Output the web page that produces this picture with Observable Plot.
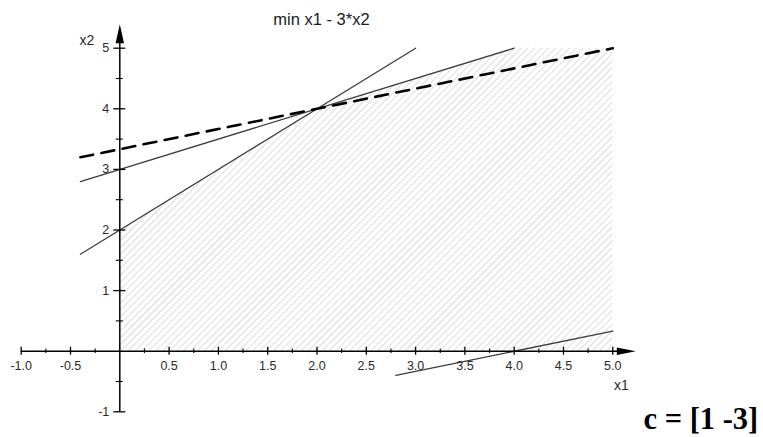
<!DOCTYPE html>
<html>
<head>
<meta charset="utf-8">
<script src="https://cdn.jsdelivr.net/npm/d3@7"></script>
<script src="https://cdn.jsdelivr.net/npm/@observablehq/plot@0.6"></script>
<style>
  html, body { margin: 0; padding: 0; background: #fff; }
  #chart { position: relative; width: 763px; height: 437px; }
</style>
</head>
<body>
<svg width="0" height="0" style="position:absolute">
  <defs>
    <pattern id="hatch" width="4.9" height="4.9" patternUnits="userSpaceOnUse" patternTransform="rotate(45)">
      <line x1="0" y1="-1" x2="0" y2="6" stroke="#b8b8b8" stroke-width="1"></line>
    </pattern>
  </defs>
</svg>
<div id="chart"></div>
<script>
// ---- data ----
const title = "min x1 - 3*x2";
const caption = "c = [1 -3]";
const xAxisLabel = "x1";
const yAxisLabel = "x2";

const xMajor = [-1, -0.5, 0.5, 1, 1.5, 2, 2.5, 3, 3.5, 4, 4.5, 5];
const xMajorLabels = ["-1.0", "-0.5", "0.5", "1.0", "1.5", "2.0", "2.5", "3.0", "3.5", "4.0", "4.5", "5.0"];
const xMinor = [-0.75, -0.25, 0.25, 0.75, 1.25, 1.75, 2.25, 2.75, 3.25, 3.75, 4.25, 4.75];
const yMajor = [-1, 1, 2, 3, 4, 5];
const yMajorLabels = ["-1", "1", "2", "3", "4", "5"];
const yMinor = [-0.5, 0.5, 1.5, 2.5, 3.5, 4.5];

// constraint lines (segment end points)
const lineAx = [-0.4, 3];   const lineAy = [1.6, 5];    // x2 = x1 + 2
const lineBx = [-0.4, 4];   const lineBy = [2.8, 5];    // x2 = 0.5 x1 + 3
const lineCx = [2.8, 5];    const lineCy = [-0.4, 0.333]; // x2 = (x1 - 4)/3
// objective level line
const objX = [-0.4, 5];     const objY = [3.2, 5];
// feasible region (hatched)
const feasX = [0, 2, 4, 5]; const feasTop = [2, 4, 5, 5];

const origin = 0;
const xDomain = [-1, 5];
const yDomain = [-1, 5];

// ---- helpers ----
const seg = (xs, ys) => xs.map((x, i) => ({x, y: ys[i]}));
const arrowUp = { draw(ctx) { ctx.moveTo(0, -24); ctx.lineTo(4.2, -5); ctx.lineTo(-4.2, -5); ctx.closePath(); } };
const arrowRight = { draw(ctx) { ctx.moveTo(23, 0); ctx.lineTo(4, 3.8); ctx.lineTo(4, -3.8); ctx.closePath(); } };
const font = "'Liberation Sans', Arial, sans-serif";

const marginLeft = 20.7, marginRight = 150.7, marginTop = 47.7, marginBottom = 25.7;

const chart = Plot.plot({
  width: 763,
  height: 437,
  marginLeft, marginRight, marginTop, marginBottom,
  x: { domain: xDomain, axis: null },
  y: { domain: yDomain, axis: null },
  style: { background: "#fff", fontFamily: font, overflow: "visible" },
  marks: [
    // hatched feasible region
    Plot.areaY(feasX.map((x, i) => ({x, y1: origin, y2: feasTop[i]})), {
      x: "x", y1: "y1", y2: "y2", fill: "url(#hatch)", curve: "linear"
    }),
    // constraint lines
    Plot.line(seg(lineAx, lineAy), {x: "x", y: "y", stroke: "#3c3c3c", strokeWidth: 1.3}),
    Plot.line(seg(lineBx, lineBy), {x: "x", y: "y", stroke: "#3c3c3c", strokeWidth: 1.3}),
    Plot.line(seg(lineCx, lineCy), {x: "x", y: "y", stroke: "#3c3c3c", strokeWidth: 1.3}),
    // objective line
    Plot.line(seg(objX, objY), {x: "x", y: "y", stroke: "#000", strokeWidth: 2.6, strokeDasharray: "13,8.5"}),
    // axes lines
    Plot.ruleY([origin], {x1: () => xDomain[0], x2: () => xDomain[1], y: d => d, stroke: "#000", strokeWidth: 1.5, insetRight: -6}),
    Plot.ruleX([origin], {y1: () => yDomain[1], y2: () => yDomain[0], x: d => d, stroke: "#000", strokeWidth: 1.5, insetTop: -6}),
    // arrow heads
    Plot.dot([xDomain[1]], {x: d => d, y: () => origin, symbol: arrowRight, fill: "#000", stroke: null}),
    Plot.dot([yDomain[1]], {x: () => origin, y: d => d, symbol: arrowUp, fill: "#000", stroke: null}),
    // x ticks
    Plot.ruleX(xMajor, {x: d => d, y1: () => origin, y2: () => origin, insetTop: -4, insetBottom: -4, stroke: "#000", strokeWidth: 1.3}),
    Plot.ruleX(xMinor, {x: d => d, y1: () => origin, y2: () => origin, insetTop: -2.3, insetBottom: -2.3, stroke: "#000", strokeWidth: 1.1}),
    // y ticks
    Plot.ruleY(yMajor, {y: d => d, x1: () => origin, x2: () => origin, insetLeft: -6, insetRight: -6, stroke: "#000", strokeWidth: 1.3}),
    Plot.ruleY(yMinor, {y: d => d, x1: () => origin, x2: () => origin, insetLeft: -3.5, insetRight: -3.5, stroke: "#000", strokeWidth: 1.1}),
    // tick labels
    Plot.text(xMajor, {x: d => d, y: () => origin, text: (d, i) => xMajorLabels[i], dy: 14.5, fontSize: 12.5, fill: "#2a2a2a", fontFamily: font}),
    Plot.text(yMajor, {x: () => origin, y: d => d, text: (d, i) => yMajorLabels[i], dx: -10.5, textAnchor: "end", fontSize: 12.5, fill: "#2a2a2a", fontFamily: font}),
    // axis labels
    Plot.text([yAxisLabel], {x: () => origin, y: () => yDomain[1], text: d => d, dx: -33, dy: -8, fontSize: 14, fill: "#2a2a2a", fontFamily: font}),
    Plot.text([xAxisLabel], {x: () => xDomain[1], y: () => origin, text: d => d, dx: 8.5, dy: 34, fontSize: 14, fill: "#2a2a2a", fontFamily: font}),
    // title
    Plot.text([title], {frameAnchor: "top-left", text: d => d, dx: 300.3, dy: -23.7, lineAnchor: "bottom", textAnchor: "middle", fontSize: 16.5, fill: "#1a1a1a", fontFamily: font}),
    // caption
    Plot.text([caption], {frameAnchor: "top-left", text: d => d, dx: 622.3, dy: 380.3, lineAnchor: "bottom", textAnchor: "start", fontSize: 30.5, fontWeight: "bold", fill: "#000", fontFamily: "'Liberation Serif', 'Times New Roman', serif"})
  ]
});
document.getElementById("chart").appendChild(chart);
</script>
</body>
</html>
